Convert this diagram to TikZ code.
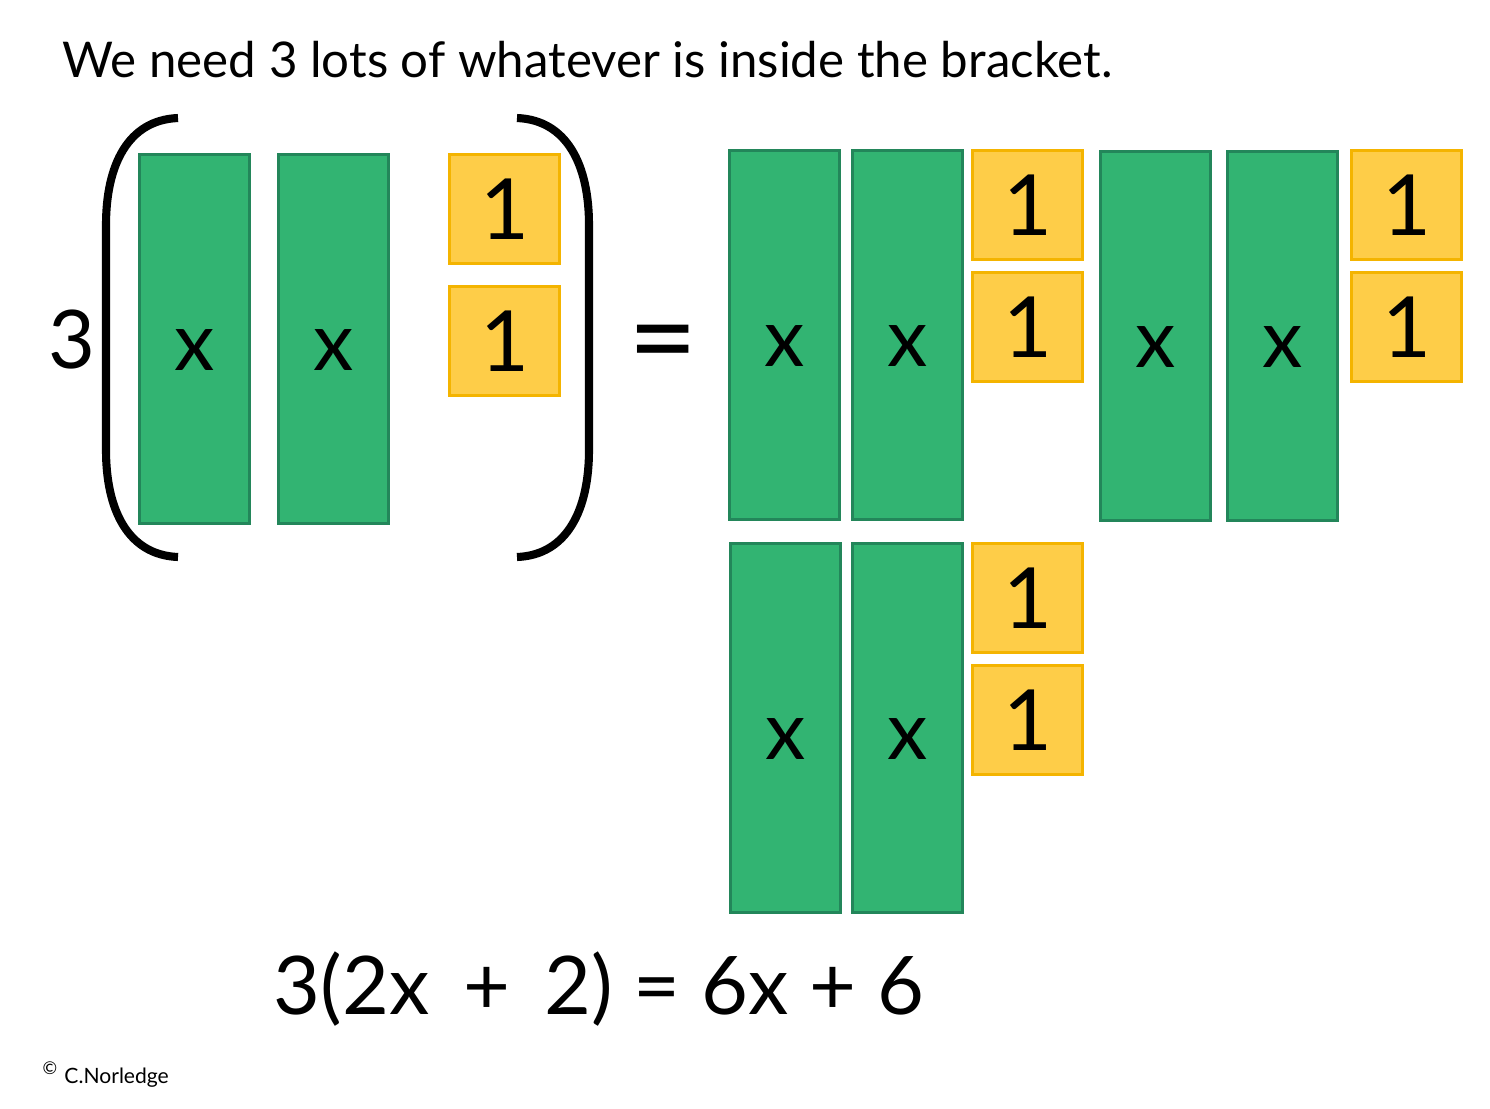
\documentclass[tikz,border=0pt]{standalone}
\usepackage{fontspec}
\setmainfont{Lato}
\usetikzlibrary{positioning, calc}
\definecolor{tilegreen}{HTML}{32B472}
\definecolor{greenline}{HTML}{23865A}
\definecolor{tileyellow}{HTML}{FECD48}
\definecolor{yellowline}{HTML}{F4B400}

\begin{document}
\begin{tikzpicture}[x=0.01cm, y=-0.01cm,
    xtile/.style={draw=greenline, fill=tilegreen, line width=0.9pt, anchor=north west,
      minimum width=1.1cm, minimum height=3.69cm, inner sep=0pt, text height=18pt, text depth=0pt,
      font=\fontsize{23}{23}\selectfont},
    onetile/.style={draw=yellowline, fill=tileyellow, line width=0.9pt, anchor=north west,
      minimum width=1.1cm, minimum height=1.09cm, inner sep=0pt, font=\fontsize{24}{24}\selectfont},
    bracket/.style={line width=2.3pt, line cap=butt}]
  \useasboundingbox (0,0) rectangle (1490,1108);

  % heading
  \node[anchor=base west, font=\fontsize{14}{17}\selectfont, inner sep=0pt] (title) at (62,77)
    {We need 3 lots of whatever is inside the bracket.};

  % left side: 3( x x 1 1 )
  \node[font=\fontsize{23}{23}\selectfont, inner sep=0pt] (three) at (72,340) {3};
  \draw[bracket] (178,118) .. controls (128,120) and (106,165) .. (106,225)
    -- (106,450) .. controls (106,510) and (128,555) .. (178,557);
  \draw[bracket] (517,118) .. controls (567,120) and (589,165) .. (589,225)
    -- (589,450) .. controls (589,510) and (567,555) .. (517,557);
  \node[xtile] (lx1) at (138,153) {x};
  \node[xtile] (lx2) at (277,153) {x};
  \node[onetile] (lo1) at (448,153) {1};
  \node[onetile] (lo2) at (448,285) {1};

  \node[font=\fontsize{34}{34}\selectfont, inner sep=0pt] (equals) at (663,352) {=};

  % right side: three lots
  \node[xtile] (ax1) at (728,149) {x};
  \node[xtile] (ax2) at (851,149) {x};
  \node[onetile] (ao1) at (971,149) {1};
  \node[onetile] (ao2) at (971,271) {1};
  \node[xtile] (bx1) at (1099,150) {x};
  \node[xtile] (bx2) at (1226,150) {x};
  \node[onetile] (bo1) at (1350,149) {1};
  \node[onetile] (bo2) at (1350,271) {1};
  \node[xtile] (cx1) at (729,542) {x};
  \node[xtile] (cx2) at (851,542) {x};
  \node[onetile] (co1) at (971,542) {1};
  \node[onetile] (co2) at (971,664) {1};

  % equation
  \node[anchor=base west, font=\fontsize{23}{23}\selectfont, inner sep=0pt] (eqn) at (273,1014)
    {3(2x\, + \,2) = 6x + 6};

  % credit
  \node[anchor=base west, font=\fontsize{6}{7}\selectfont, inner sep=0pt] (credit) at (42,1083)
    {\textsuperscript{©} C.Norledge};
\end{tikzpicture}
\end{document}
